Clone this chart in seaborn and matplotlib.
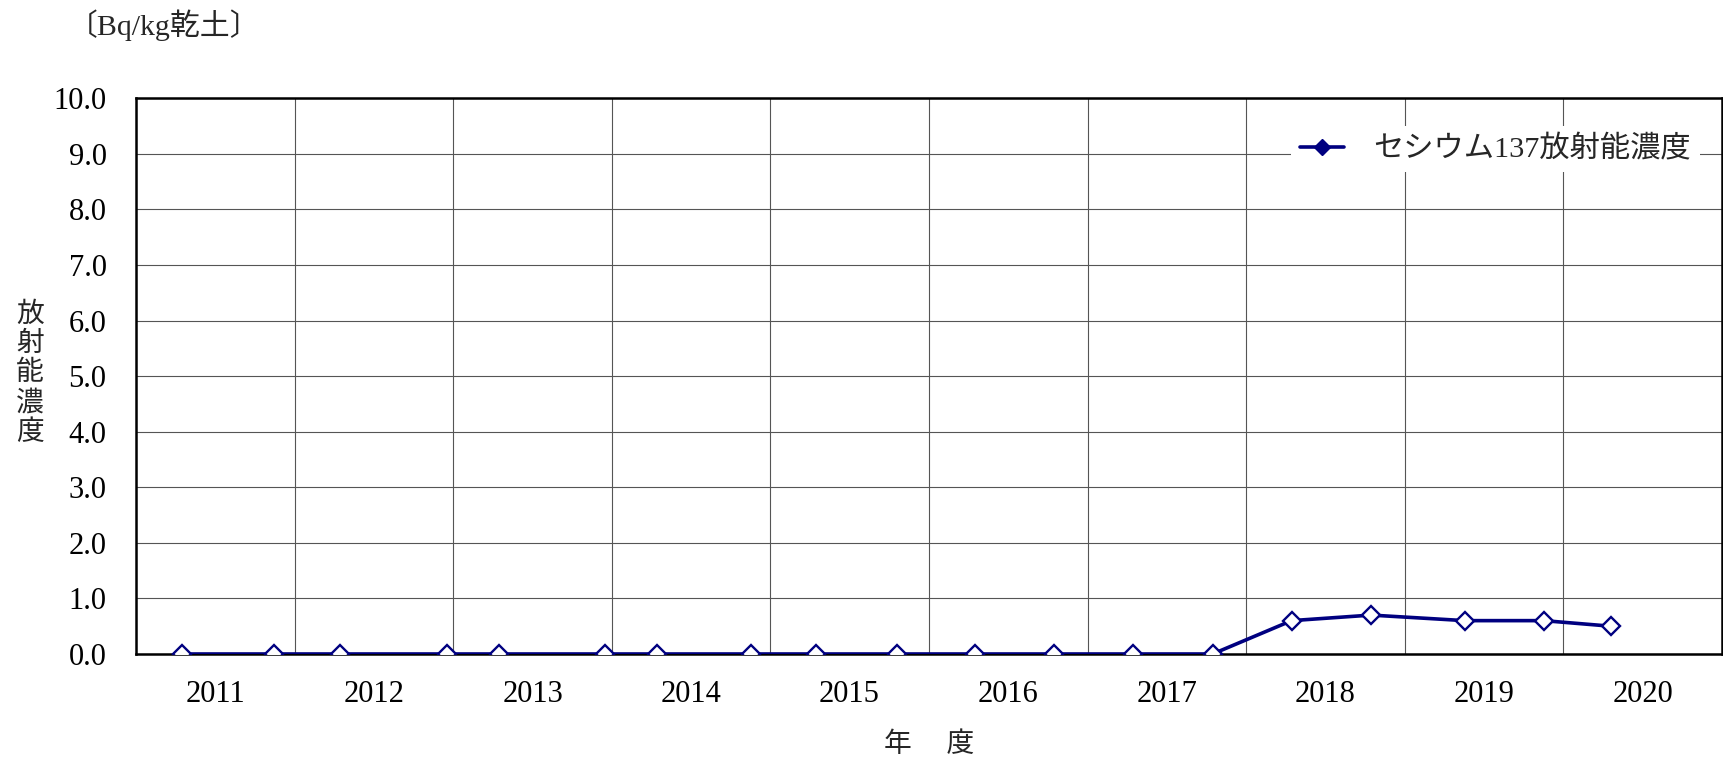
import pandas as pd
import seaborn as sns
import matplotlib.pyplot as plt
import matplotlib.dates as mdates
from matplotlib.lines import Line2D

# Set the Seaborn style, then the fonts (serif digits, CJK fallback)
sns.set_style("white")
plt.rcParams['font.family'] = ['Liberation Serif', 'Noto Sans CJK JP']

# Data: sampling dates and cesium-137 concentration (Bq/kg dry soil)
sample_dates = [
    '2011-07-16', '2012-02-13', '2012-07-15', '2013-03-17',
    '2013-07-15', '2014-03-17', '2014-07-15', '2015-02-17',
    '2015-07-15', '2016-01-18', '2016-07-15', '2017-01-14',
    '2017-07-15', '2018-01-14', '2018-07-15', '2019-01-14',
    '2019-08-18', '2020-02-16', '2020-07-19',
]
cs137 = [0.0, 0.0, 0.0, 0.0, 0.0, 0.0, 0.0, 0.0, 0.0, 0.0,
         0.0, 0.0, 0.0, 0.0, 0.6, 0.7, 0.6, 0.6, 0.5]
fiscal_years = list(range(2011, 2021))
y_ticks = [0, 1, 2, 3, 4, 5, 6, 7, 8, 9, 10]

series_label = 'セシウム137放射能濃度'
unit_label = '〔Bq/kg乾土〕'
y_label = '放射能濃度'
x_label = '年\u3000 度'

df = pd.DataFrame({'Date': pd.to_datetime(sample_dates), 'Cs137': cs137})

navy = '#000080'

fig = plt.figure(figsize=(17.24, 7.64), dpi=100)
ax = fig.add_axes([0.0787, 0.144, 0.9201, 0.7274])

sns.lineplot(data=df, x='Date', y='Cs137', ax=ax, color=navy, linewidth=2.6,
             marker='D', markersize=9.5, markerfacecolor='white',
             markeredgecolor=navy, markeredgewidth=1.7, zorder=5)

# Fiscal-year axis: gridlines at April 1, year labels in the middle
ax.set_xlim(pd.Timestamp(f'{fiscal_years[0]}-04-01'),
            pd.Timestamp(f'{fiscal_years[-1] + 1}-04-01'))
ax.xaxis.set_major_locator(mdates.YearLocator(month=4, day=1))
ax.xaxis.set_major_formatter(plt.NullFormatter())
ax.xaxis.set_minor_locator(mdates.YearLocator(month=10, day=1))
ax.xaxis.set_minor_formatter(mdates.DateFormatter('%Y'))

ax.set_ylim(0, 10)
ax.set_yticks(y_ticks)
ax.set_yticklabels([f'{v:.1f}' for v in y_ticks])

ax.tick_params(axis='both', which='both', length=0, labelsize=22, colors='black')
ax.tick_params(axis='y', pad=21)
ax.tick_params(axis='x', which='minor', pad=19)

ax.grid(True, which='major', color='#555555', linewidth=0.8)
ax.set_axisbelow(True)
for spine in ax.spines.values():
    spine.set_color('black')
    spine.set_linewidth(1.8)

ax.set_xlabel('')
ax.set_ylabel('')

# Legend with filled diamond, white box without frame
handle = Line2D([], [], color=navy, linewidth=2.6, marker='D', markersize=8,
                markerfacecolor=navy, markeredgecolor=navy)
leg = ax.legend([handle], [series_label], loc='center left',
                bbox_to_anchor=(0.719, 0.908), frameon=True, fontsize=21.8,
                handlelength=1.45, borderpad=0.3, handletextpad=0.95)
leg.get_frame().set_edgecolor('none')
leg.get_frame().set_facecolor('white')
leg.get_frame().set_alpha(1)

# Texts outside the plot area
fig.text(0.0394, 0.967, unit_label, ha='left', va='center', fontsize=21.5)
fig.text(0.0174, 0.51, '\n'.join(y_label), ha='center', va='center',
         fontsize=20, linespacing=1.2)
fig.text(0.539, 0.025, x_label, ha='center', va='center', fontsize=20)

plt.savefig('out.png', dpi=100)
plt.close()
